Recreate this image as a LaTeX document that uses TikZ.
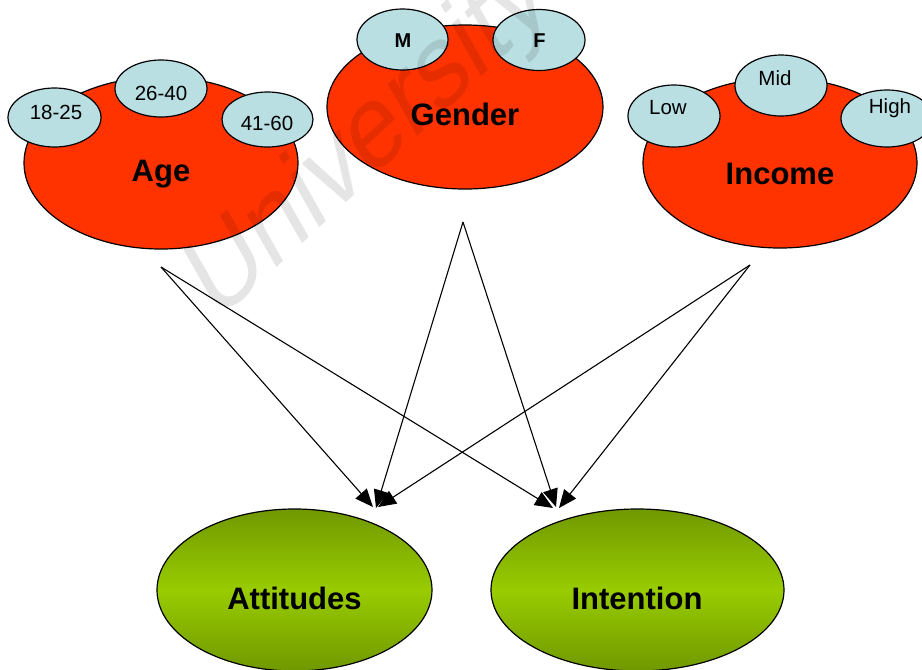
\documentclass[tikz,border=0pt]{standalone}
\usepackage{fontspec}
\setmainfont{Liberation Sans}
\usetikzlibrary{shapes.geometric,arrows.meta}

\definecolor{factorred}{RGB}{255,51,0}
\definecolor{levelblue}{RGB}{185,223,227}
\definecolor{olivedark}{RGB}{112,152,0}
\definecolor{olivelight}{RGB}{153,204,0}

\begin{document}
\begin{tikzpicture}[x=1pt,y=-1pt,
  factor/.style={ellipse,draw,line width=1.2pt,fill=factorred,inner sep=0pt},
  level/.style={ellipse,draw,line width=1.2pt,fill=levelblue,inner sep=0pt},
  outcome/.style={ellipse,draw,line width=1.2pt,top color=olivedark,
    bottom color=olivedark,middle color=olivelight,inner sep=0pt},
  bigtext/.style={font=\fontsize{31}{36}\selectfont\bfseries},
  smalltext/.style={font=\fontsize{20.5}{24}\selectfont},
  link/.style={-{Triangle[length=18pt,width=15pt]},line width=1.1pt}]
  \useasboundingbox (0,0) rectangle (922,670);

  % the three factors
  \node[factor,minimum width=274pt,minimum height=172pt] (age) at (161,163) {};
  \node[level,minimum width=93pt,minimum height=59pt] (lvA) at (54.5,117.5) {};
  \node[level,minimum width=92pt,minimum height=57pt] (lvB) at (161,88.5) {};
  \node[level,minimum width=91pt,minimum height=55pt] (lvC) at (267.5,119.5) {};
  \node[smalltext] (lvAtext) at (56,112) {18-25};
  \node[smalltext] (lvBtext) at (161,93) {26-40};
  \node[smalltext] (lvCtext) at (267,123) {41-60};
  \node[bigtext] (agetext) at (161,174) {Age};

  \node[factor,minimum width=276pt,minimum height=164pt] (gender) at (465,107) {};
  \node[level,minimum width=91pt,minimum height=61pt] (lvM) at (402.5,39.5) {};
  \node[level,minimum width=92pt,minimum height=61pt] (lvF) at (539,40) {};
  \node[font=\fontsize{20}{24}\selectfont\bfseries] (lvMtext) at (403,41) {M};
  \node[font=\fontsize{20}{24}\selectfont\bfseries] (lvFtext) at (539.5,41) {F};
  \node[bigtext] (gendertext) at (465,114) {Gender};

  \node[factor,minimum width=274pt,minimum height=170pt] (income) at (780,163) {};
  \node[level,minimum width=92pt,minimum height=62pt] (lvLow) at (674,116) {};
  \node[level,minimum width=92pt,minimum height=61pt] (lvMid) at (781,85.5) {};
  \node[level,minimum width=92pt,minimum height=57pt] (lvHigh) at (887,118.5) {};
  \node[smalltext] (lvLowtext) at (668,108) {Low};
  \node[smalltext] (lvMidtext) at (775,78) {Mid};
  \node[smalltext] (lvHightext) at (890,108) {High};
  \node[bigtext] (incometext) at (780,174) {Income};

  % the two outcomes
  \node[outcome,minimum width=275pt,minimum height=162pt] (att) at (294.5,590) {};
  \node[outcome,minimum width=293pt,minimum height=162pt] (int) at (637.5,590) {};
  \node[bigtext] (atttext) at (294.5,598) {Attitudes};
  \node[bigtext] (inttext) at (637,598) {Intention};

  % links
  \coordinate (agefoot) at (161,267);
  \coordinate (genderfoot) at (463,222);
  \coordinate (incomefoot) at (750,265);
  \coordinate (attA) at (373,507);
  \coordinate (attG) at (376,508);
  \coordinate (attI) at (378,507);
  \coordinate (intA) at (553,508);
  \coordinate (intG) at (556,507);
  \coordinate (intI) at (559,508);
  \draw[link] (agefoot) -- (attA);
  \draw[link] (agefoot) -- (intA);
  \draw[link] (genderfoot) -- (attG);
  \draw[link] (genderfoot) -- (intG);
  \draw[link] (incomefoot) -- (attI);
  \draw[link] (incomefoot) -- (intI);

  % watermark
  \node[yscale=1.28,rotate=36,anchor=base west,inner sep=0pt,opacity=0.1,
    font=\fontsize{95}{95}\selectfont] (mark) at (216,324) {University};
\end{tikzpicture}
\end{document}
